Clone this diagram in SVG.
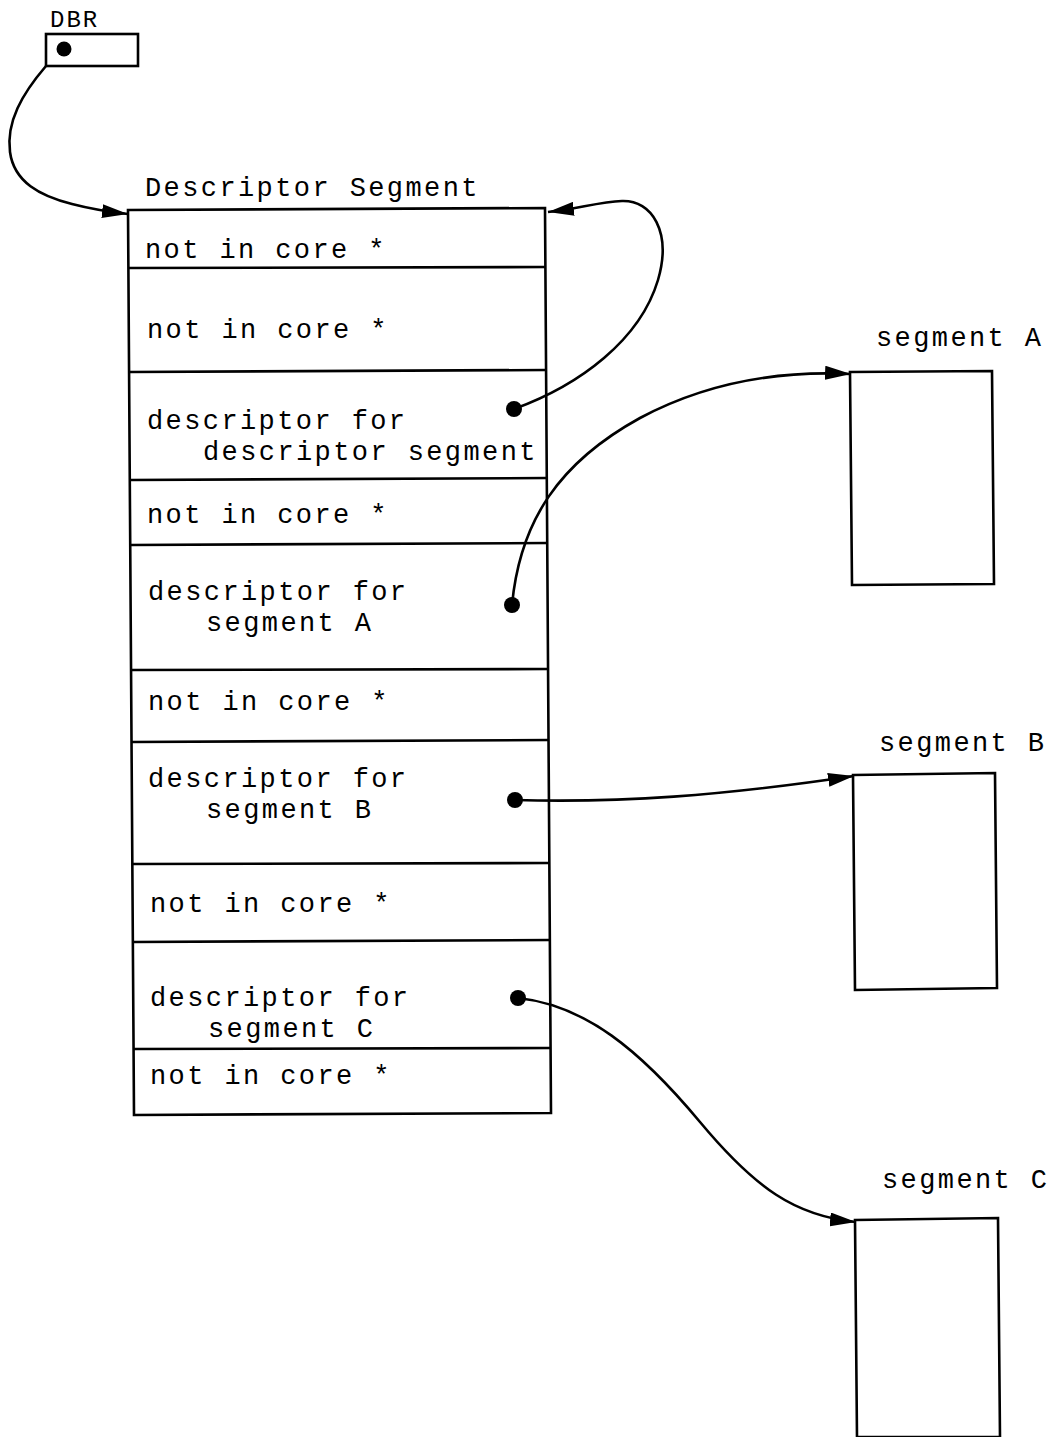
<svg xmlns="http://www.w3.org/2000/svg" width="1056" height="1437" viewBox="0 0 1056 1437">
  <style>
    .t { font-family: "Liberation Mono", "Courier New", monospace; font-size: 27px; letter-spacing: 2.4px; fill: #000; }
    .small { font-size: 24px; letter-spacing: 2px; }
    .box { fill: none; stroke: #000; stroke-width: 2.6; }
    .ln { stroke: #000; stroke-width: 2.6; fill: none; }
    .conn { fill: none; stroke: #000; stroke-width: 2.6; }
    .dot { fill: #000; }
  </style>
  <defs>
    <marker id="arrow" viewBox="0 0 26 14" refX="26" refY="7" markerWidth="26" markerHeight="14" markerUnits="userSpaceOnUse" orient="auto">
      <path d="M0,0 L26,7 L0,14 Z" fill="#000"/>
    </marker>
  </defs>
  <rect width="1056" height="1437" fill="#fff"/>

  <g id="dbr">
    <text class="t small" x="50" y="27">DBR</text>
    <rect class="box" x="46" y="34" width="92" height="32"/>
    <circle class="dot" cx="64" cy="49" r="7.5"/>
  </g>

  <g id="descriptor-segment">
    <text class="t" x="145" y="196">Descriptor Segment</text>
    <polygon class="box" points="128,210 545,208 551,1113 134,1115"/>
    <g id="row1">
      <line class="ln" x1="128" y1="268" x2="546" y2="267"/>
      <text class="t" x="145" y="258">not in core *</text>
    </g>
    <g id="row2">
      <line class="ln" x1="129" y1="372" x2="546" y2="370"/>
      <text class="t" x="147" y="338">not in core *</text>
    </g>
    <g id="row3">
      <line class="ln" x1="130" y1="480" x2="547" y2="478"/>
      <text class="t" x="147" y="429">descriptor for</text>
      <text class="t" x="203" y="460">descriptor segment</text>
      <circle class="dot" cx="514" cy="409" r="8"/>
    </g>
    <g id="row4">
      <line class="ln" x1="130" y1="545" x2="548" y2="543"/>
      <text class="t" x="147" y="523">not in core *</text>
    </g>
    <g id="row5">
      <line class="ln" x1="131" y1="670" x2="548" y2="669"/>
      <text class="t" x="148" y="600">descriptor for</text>
      <text class="t" x="206" y="631">segment A</text>
      <circle class="dot" cx="512" cy="605" r="8"/>
    </g>
    <g id="row6">
      <line class="ln" x1="131" y1="742" x2="549" y2="740"/>
      <text class="t" x="148" y="710">not in core *</text>
    </g>
    <g id="row7">
      <line class="ln" x1="132" y1="864" x2="549" y2="863"/>
      <text class="t" x="148" y="787">descriptor for</text>
      <text class="t" x="206" y="818">segment B</text>
      <circle class="dot" cx="515" cy="800" r="8"/>
    </g>
    <g id="row8">
      <line class="ln" x1="133" y1="942" x2="550" y2="940"/>
      <text class="t" x="150" y="912">not in core *</text>
    </g>
    <g id="row9">
      <line class="ln" x1="133" y1="1049" x2="551" y2="1048"/>
      <text class="t" x="150" y="1006">descriptor for</text>
      <text class="t" x="208" y="1037">segment C</text>
      <circle class="dot" cx="518" cy="998" r="8"/>
    </g>
    <g id="row10">
      <text class="t" x="150" y="1084">not in core *</text>
    </g>
  </g>

  <g id="segment-a">
    <text class="t" x="876" y="346">segment A</text>
    <polygon class="box" points="850,372 992,371 994,584 852,585"/>
  </g>

  <g id="segment-b">
    <text class="t" x="879" y="751">segment B</text>
    <polygon class="box" points="853,775 995,773 997,988 855,990"/>
  </g>

  <g id="segment-c">
    <text class="t" x="882" y="1188">segment C</text>
    <polygon class="box" points="855,1220 998,1218 1000,1437 857,1437"/>
  </g>

  <g id="connectors">
    <path class="conn" marker-end="url(#arrow)" d="M46,66 C22,94 6,122 10,152 C14,182 40,196 72,204 C95,210 110,212 128,214"/>
    <path class="conn" marker-end="url(#arrow)" d="M514,409 C580,385 640,340 658,280 C672,232 652,200 622,201 C600,202 580,208 548,212"/>
    <path class="conn" marker-end="url(#arrow)" d="M512,605 C520,520 560,462 640,418 C700,386 770,370 851,374"/>
    <path class="conn" marker-end="url(#arrow)" d="M515,800 C620,803 720,796 854,776"/>
    <path class="conn" marker-end="url(#arrow)" d="M518,998 C585,1005 640,1050 700,1122 C755,1188 795,1216 856,1222"/>
  </g>
</svg>
